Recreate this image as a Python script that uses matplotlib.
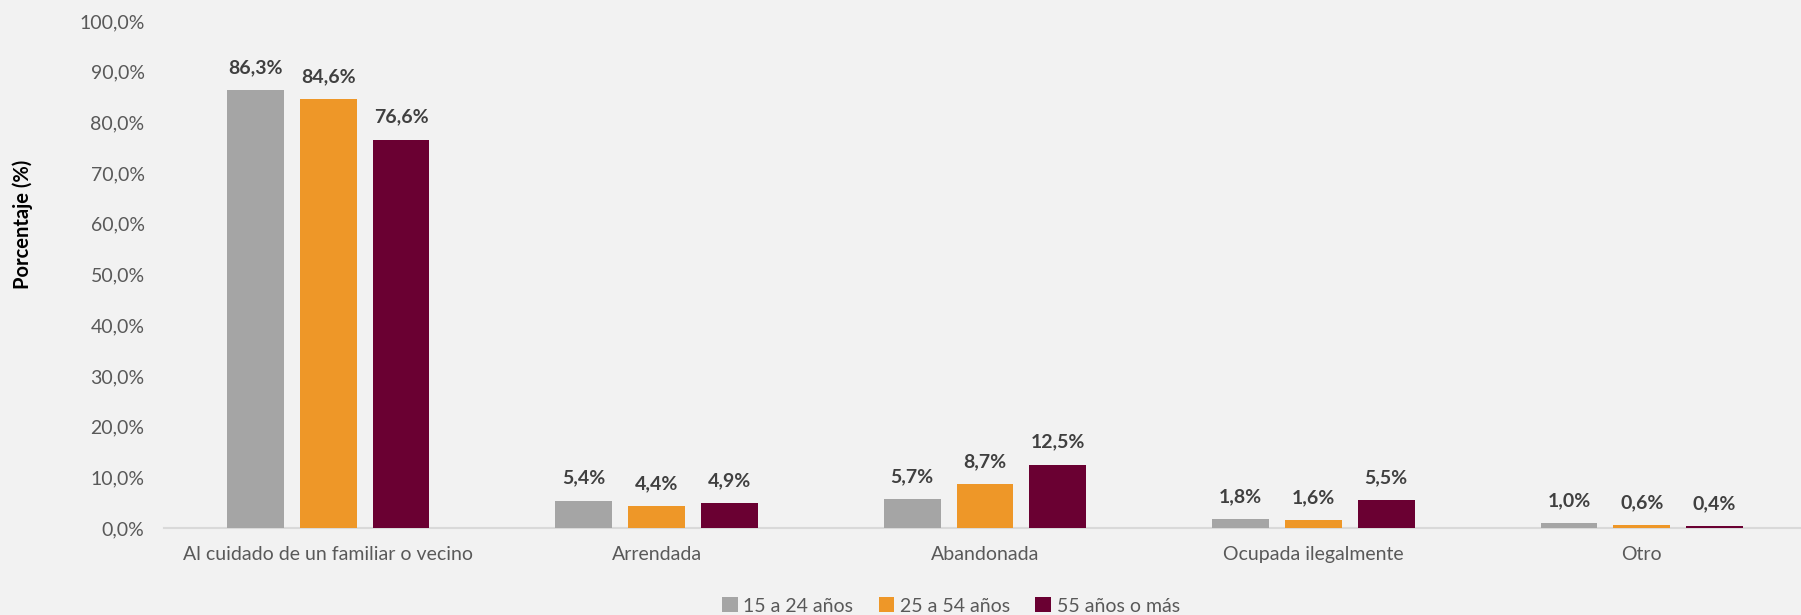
import numpy as np
from matplotlib import pyplot as plt
from matplotlib.ticker import FuncFormatter

# Data
categories = ["Al cuidado de un familiar o vecino", "Arrendada", "Abandonada",
              "Ocupada ilegalmente", "Otro"]
series_names = ["15 a 24 años", "25 a 54 años", "55 años o más"]
v_15_24 = [86.3, 5.4, 5.7, 1.8, 1.0]
v_25_54 = [84.6, 4.4, 8.7, 1.6, 0.6]
v_55_mas = [76.6, 4.9, 12.5, 5.5, 0.4]
colors = ["#A5A5A5", "#EE9728", "#6A0032"]

plt.rcParams['font.family'] = ['Lato', 'DejaVu Sans']

fig = plt.figure(figsize=(18.01, 6.15), dpi=100)
fig.patch.set_facecolor('#F2F2F2')
ax = fig.add_axes([164/1801, 1-528/615, 1-164/1801, (528-21)/615])
ax.set_facecolor('#F2F2F2')

x = np.arange(len(categories))
w = 0.173
offs = 0.2216
for i, (vals, name, c) in enumerate(zip([v_15_24, v_25_54, v_55_mas], series_names, colors)):
    pos = x + (i - 1) * offs
    bars = ax.bar(pos, vals, w, color=c, label=name, zorder=3)
    for b, v in zip(bars, vals):
        ax.annotate(("%.1f%%" % v).replace('.', ','),
                    (b.get_x() + b.get_width()/2, v), xytext=(0, 10),
                    textcoords='offset points', ha='center', va='bottom',
                    fontsize=14, fontweight='bold', color='#404040')

ax.set_ylim(0, 100)
ax.set_xlim(-0.5, 4.485)
ax.set_yticks(np.arange(0, 101, 10))
ax.yaxis.set_major_formatter(FuncFormatter(lambda v, p: ("%.1f%%" % v).replace('.', ',')))
ax.set_xticks(x)
ax.set_xticklabels(categories)
ax.tick_params(axis='both', length=0, labelsize=14, colors='#595959')
ax.tick_params(axis='y', pad=14)
ax.tick_params(axis='x', pad=13)
for s in ['top', 'right', 'left']:
    ax.spines[s].set_visible(False)
ax.spines['bottom'].set_color('#D9D9D9')
ax.spines['bottom'].set_linewidth(1.5)

fig.text(23/1801, 1-224/615, "Porcentaje (%)", rotation=90, ha='center', va='center',
         fontsize=14.5, fontweight='bold', color='black')

fig.legend(loc='center', bbox_to_anchor=(951/1801, 9/615), ncol=3, frameon=False,
           fontsize=14, handlelength=0.8, handleheight=0.8, handletextpad=0.3,
           columnspacing=1.3, labelcolor='#595959')

fig.savefig('out.png', dpi=100, facecolor=fig.get_facecolor())
